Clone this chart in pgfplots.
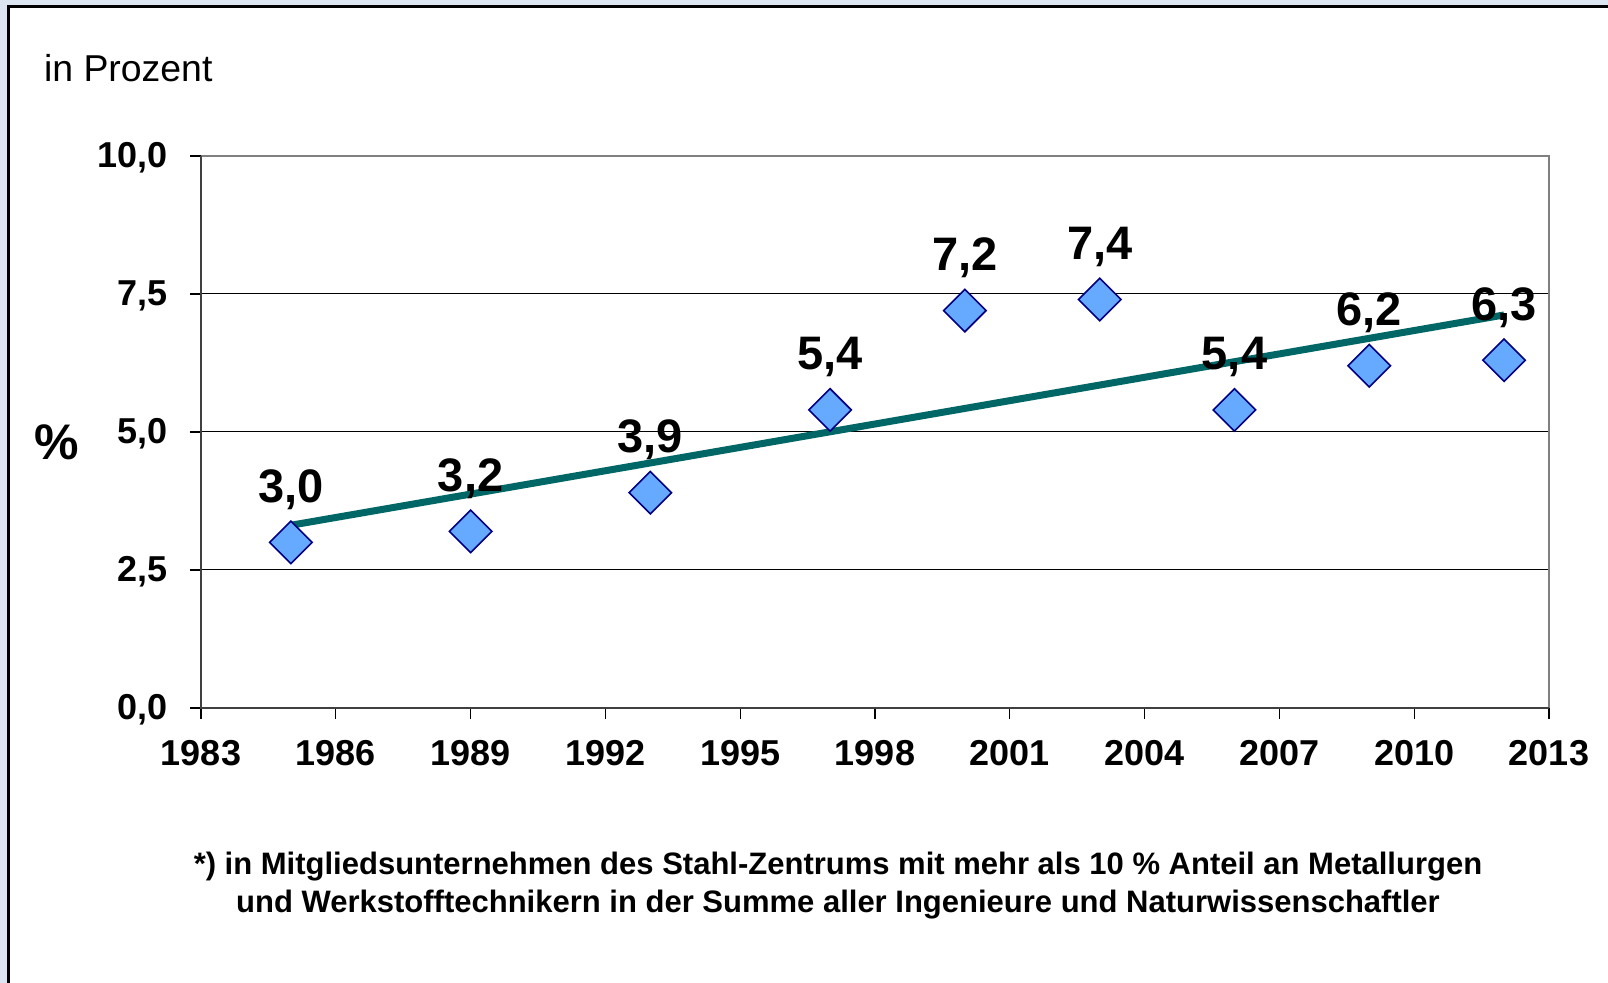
\documentclass[border=0pt]{standalone}
\usepackage{pgfplots}
\pgfplotsset{compat=1.18}
\usepackage{fontspec}
\setmainfont{Liberation Sans}
\definecolor{bgblue}{RGB}{220,230,242}
\definecolor{trend}{RGB}{0,102,102}
\definecolor{mfill}{RGB}{102,170,255}
\definecolor{medge}{RGB}{0,0,128}
\pgfplotstableread{
year value
1985 3.0
1989 3.2
1993 3.9
1997 5.4
2000 7.2
2003 7.4
2006 5.4
2009 6.2
2012 6.3
}\datatable
\begin{document}
\begin{tikzpicture}
\useasboundingbox (0,0) rectangle (804pt,491.5pt);
\fill[bgblue] (0,0) rectangle (804pt,491.5pt);
\fill[white] (4pt,-2pt) rectangle (806pt,488.25pt);
\draw[black, line width=1.5pt] (4pt,-2pt) -- (4pt,488.25pt) -- (806pt,488.25pt);
\node[anchor=base west, font=\fontsize{18.7}{22}\selectfont] at (18.5pt,450.5pt) {in Prozent};
\node[anchor=center, font=\fontsize{25}{30}\selectfont\bfseries] at (28.5pt,270.5pt) {\%};
\node[anchor=base, font=\fontsize{15.5}{18}\selectfont\bfseries] at (419pt,54pt) {*) in Mitgliedsunternehmen des Stahl-Zentrums mit mehr als 10 \% Anteil an Metallurgen};
\node[anchor=base, font=\fontsize{15.5}{18}\selectfont\bfseries] at (419pt,35pt) {und Werkstofftechnikern in der Summe aller Ingenieure und Naturwissenschaftler};
\begin{axis}[
  at={(100.5pt,137.5pt)}, anchor=south west,
  scale only axis, width=674pt, height=276pt,
  xmin=1983, xmax=2013, ymin=0, ymax=10,
  xtick={1983,1986,1989,1992,1995,1998,2001,2004,2007,2010,2013},
  xticklabels={1983,1986,1989,1992,1995,1998,2001,2004,2007,2010,2013},
  ytick={0,2.5,5,7.5,10},
  yticklabels={{0,0},{2,5},{5,0},{7,5},{10,0}},
  tick pos=left, tick align=outside, major tick length=5.5pt,
  tick style={black, line width=0.6pt},
  ymajorgrids, grid style={black, line width=0.5pt},
  axis line style={draw=none},
  ticklabel style={font=\fontsize{18}{22}\selectfont\bfseries},
  xticklabel style={yshift=-7pt},
  yticklabel style={xshift=-7.5pt, yshift=-1pt},
  clip=false,
]
\draw[gray, line width=1pt] (rel axis cs:0,1) -- (rel axis cs:1,1) -- (rel axis cs:1,0);
\draw[black!75, line width=0.8pt] (rel axis cs:0,1) -- (rel axis cs:0,0) -- (rel axis cs:1,0);
\addplot[only marks, mark=square*, mark size=7.5pt,
  mark options={rotate=45, fill=mfill, draw=medge, line width=0.8pt},
  nodes near coords={\pgfmathprintnumber[fixed, fixed zerofill, precision=1, use comma, assume math mode=true]{\pgfplotspointmeta}},
  nodes near coords style={anchor=base, yshift=20pt, font=\fontsize{23.5}{28}\selectfont\bfseries, text=black},
  point meta=explicit]
  table[x=year, y=value, meta=value] {\datatable};
\addplot[trend, line width=3.5pt] coordinates {(1985,3.31) (2012,7.12)};
\end{axis}
\end{tikzpicture}
\end{document}
